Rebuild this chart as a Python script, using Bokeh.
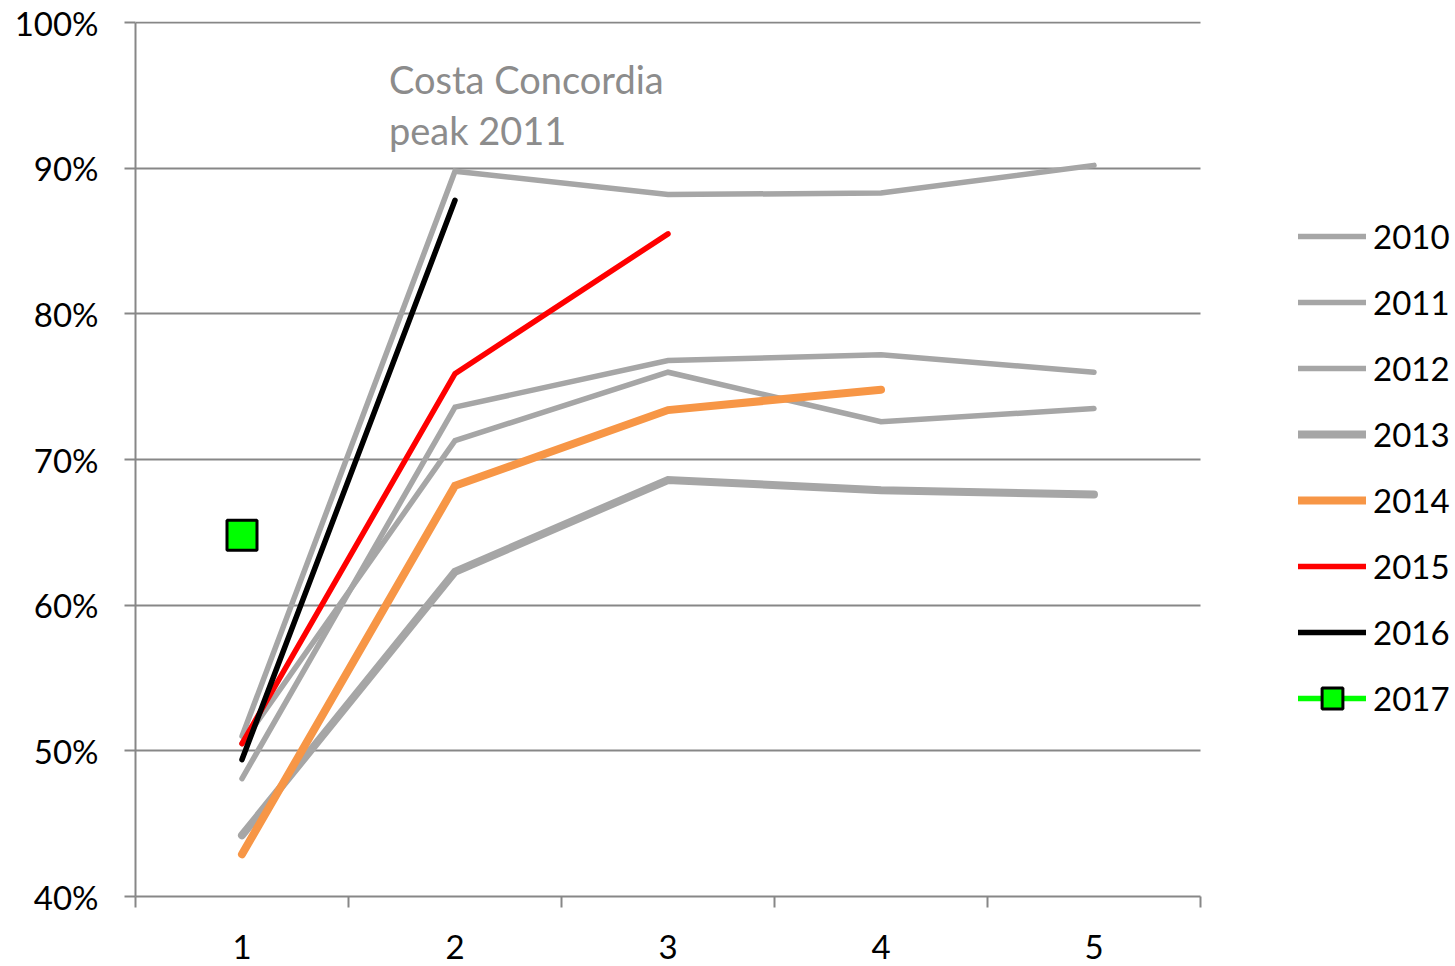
from bokeh.plotting import figure
from bokeh.models import Range1d, FixedTicker, PrintfTickFormatter, Legend, LegendItem, Label
from bokeh.embed import file_html
from bokeh.resources import INLINE

periods = [1, 2, 3, 4, 5]
tick_labels = {1: "1", 2: "2", 3: "3", 4: "4", 5: "5"}
years = ["2010", "2011", "2012", "2013", "2014", "2015", "2016", "2017"]
y2010 = [50.5, 71.3, 76.0, 72.6, 73.5]
y2011 = [51.0, 89.8, 88.2, 88.3, 90.2]
y2012 = [48.1, 73.6, 76.8, 77.2, 76.0]
y2013 = [44.2, 62.3, 68.6, 67.9, 67.6]
y2014 = [42.9, 68.2, 73.4, 74.8]
y2015 = [50.5, 75.9, 85.5]
y2016 = [49.4, 87.8]
y2017 = [64.8]
annotation = ["Costa Concordia", "peak 2011"]

FONT = "Lato"
GRID = "#878787"

# frame spans to the right edge; axis and grid are bounded to the category span
X_END = 0.5 + (1455 - 135) / 213.0
p = figure(width=1455, height=966, output_backend="svg", toolbar_location=None,
           x_range=Range1d(0.5, X_END), y_range=Range1d(40, 100.08),
           min_border_left=135, min_border_right=0, min_border_top=21, min_border_bottom=70)
p.outline_line_color = None
p.background_fill_color = "white"

# axes
p.xaxis.ticker = FixedTicker(ticks=periods, minor_ticks=[0.5, 1.5, 2.5, 3.5, 4.5, 5.5])
p.xaxis.bounds = (0.5, 5.5)
p.xaxis.major_label_overrides = tick_labels
p.xaxis.major_tick_line_color = None
p.xaxis.minor_tick_line_color = GRID
p.xaxis.minor_tick_line_width = 2
p.xaxis.minor_tick_out = 11
p.xaxis.minor_tick_in = 0
p.xaxis.axis_line_color = GRID
p.xaxis.axis_line_width = 2
p.xaxis.major_label_text_font = FONT
p.xaxis.major_label_text_font_size = "33px"
p.xaxis.major_label_text_color = "black"
p.xaxis.major_label_standoff = 27

p.yaxis.ticker = FixedTicker(ticks=[40, 50, 60, 70, 80, 90, 100])
p.yaxis.bounds = (40, 100)
p.yaxis.formatter = PrintfTickFormatter(format="%d%%")
p.yaxis.major_tick_line_color = GRID
p.yaxis.major_tick_line_width = 2
p.yaxis.major_tick_out = 11
p.yaxis.major_tick_in = 0
p.yaxis.minor_tick_line_color = None
p.yaxis.axis_line_color = GRID
p.yaxis.axis_line_width = 2
p.yaxis.major_label_text_font = FONT
p.yaxis.major_label_text_font_size = "33px"
p.yaxis.major_label_text_color = "black"
p.yaxis.major_label_standoff = 26

p.xgrid.grid_line_color = None
p.ygrid.grid_line_color = GRID
p.ygrid.grid_line_width = 2
p.ygrid.cross_bounds = (0.5, 5.5)
p.ygrid.ticker = FixedTicker(ticks=[50, 60, 70, 80, 90, 100])

GRAY = "#A6A6A6"
series = [
    (y2010, GRAY, 5.5),
    (y2011, GRAY, 5.5),
    (y2012, GRAY, 5.5),
    (y2013, GRAY, 8),
    (y2014, "#F79646", 8),
    (y2015, "#FF0000", 5.5),
    (y2016, "#000000", 5.5),
]
items = []
for (vals, color, w), yr in zip(series, years):
    r = p.line(periods[:len(vals)], vals, line_color=color, line_width=w,
               line_cap="round", line_join="miter")
    items.append(LegendItem(label=yr, renderers=[r]))

gl = p.line(periods[:len(y2017)], y2017, line_color="#00FF00", line_width=5.5, line_cap="round")
gs = p.scatter(periods[:len(y2017)], y2017, marker="square", size=30,
               fill_color="#00FF00", line_color="black", line_width=3)
items.append(LegendItem(label=years[7], renderers=[gl, gs]))

legend = Legend(items=items, location=(1163, 172), orientation="vertical",
                glyph_width=68, glyph_height=52, label_standoff=7,
                label_text_font=FONT, label_text_font_size="33px", label_text_color="black",
                label_height=38, spacing=14, padding=0, margin=0,
                border_line_color=None, background_fill_alpha=0)
p.add_layout(legend, "center")

p.add_layout(Label(x=1.69, y=97.7, text=annotation[0], text_font=FONT, text_font_size="38px",
                   text_color="#8C8C8C", text_baseline="top", text_align="left"))
p.add_layout(Label(x=1.69, y=94.2, text=annotation[1], text_font=FONT, text_font_size="38px",
                   text_color="#8C8C8C", text_baseline="top", text_align="left"))

open("out.html", "w").write(file_html(p, INLINE))
